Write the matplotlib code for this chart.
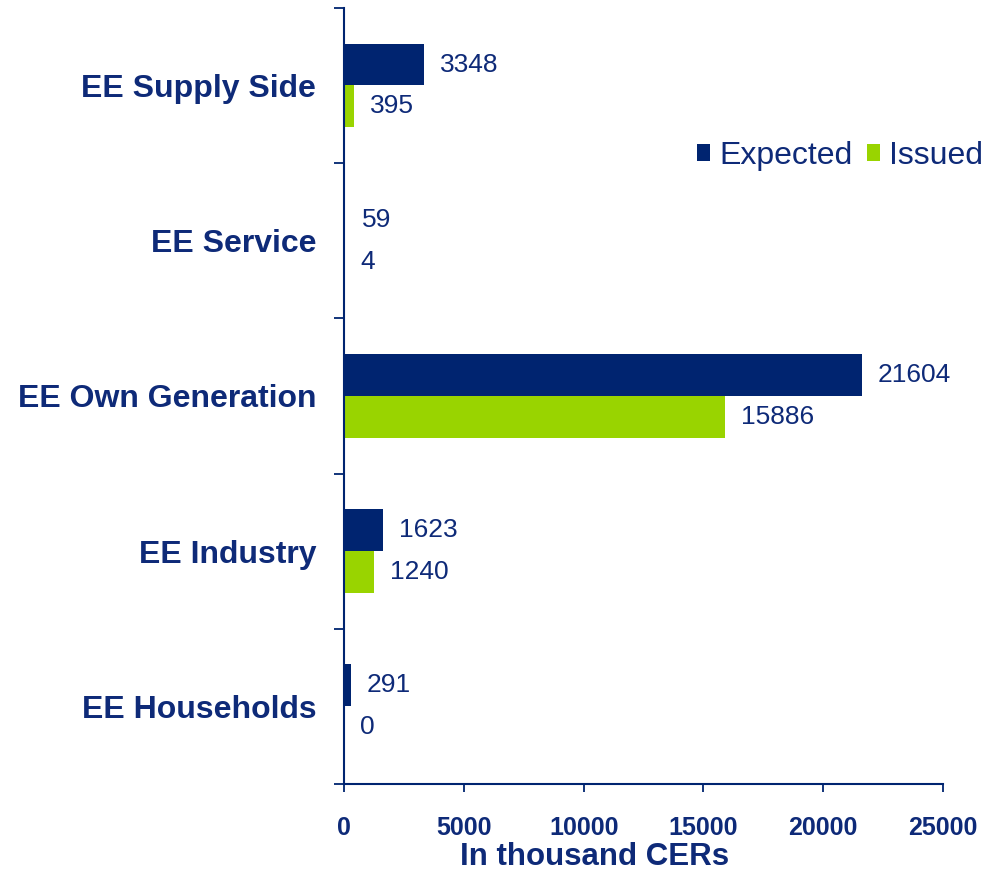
import matplotlib.pyplot as plt
import numpy as np

categories = ['EE Supply Side', 'EE Service', 'EE Own Generation', 'EE Industry', 'EE Households']
expected = [3348, 59, 21604, 1623, 291]
issued = [395, 4, 15886, 1240, 0]

navy = '#002470'
green = '#99D400'
txt = '#0E2A78'

plt.rcParams['font.family'] = ['Liberation Sans', 'DejaVu Sans']

fig = plt.figure(figsize=(10.01, 8.73), dpi=100)
ax = fig.add_axes([0.3437, 0.102, 0.5984, 0.889])

y = np.arange(len(categories))
h = 0.27
ax.barh(y - h / 2, expected, height=h, color=navy, label='Expected')
ax.barh(y + h / 2, issued, height=h, color=green, label='Issued')

# value labels next to the bar ends
for yi, e, s in zip(y, expected, issued):
    ax.annotate(str(e), (e, yi - h / 2), xytext=(16, 0), textcoords='offset pixels',
                va='center', ha='left', fontsize=19, color=txt)
    ax.annotate(str(s), (s, yi + h / 2), xytext=(16, 0), textcoords='offset pixels',
                va='center', ha='left', fontsize=19, color=txt)

ax.set_ylim(len(categories) - 0.5, -0.5)
ax.set_xlim(0, 25000)
ax.set_xticks(np.arange(0, 25001, 5000))
ax.set_yticks(np.arange(-0.5, len(categories), 1.0))
ax.set_yticklabels([])
ax.set_yticks(y, minor=True)
ax.set_yticklabels(categories, minor=True, fontsize=23, fontweight='bold', color=txt)
ax.tick_params(axis='y', which='major', length=7, width=1.3, color=navy, direction='out')
ax.tick_params(axis='y', which='minor', length=0, pad=20)
ax.tick_params(axis='x', length=6, width=1.3, color=navy, pad=17, labelsize=18, labelcolor=txt)
for lab in ax.get_xticklabels():
    lab.set_fontweight('bold')

for side in ['top', 'right']:
    ax.spines[side].set_visible(False)
for side in ['left', 'bottom']:
    ax.spines[side].set_color(navy)
    ax.spines[side].set_linewidth(1.5)

ax.set_xlabel('In thousand CERs', fontsize=22.5, fontweight='bold', color=txt, va='baseline')
ax.xaxis.set_label_coords(0.419, -0.1045)

leg = ax.legend(loc='center right', bbox_to_anchor=(1.067, 0.809), ncol=2, frameon=False,
                fontsize=23, handlelength=0.42, handleheight=0.42, handletextpad=0.28,
                columnspacing=0.45, borderaxespad=0, borderpad=0)
for t in leg.get_texts():
    t.set_color(txt)

fig.savefig('out.png', dpi=100)
